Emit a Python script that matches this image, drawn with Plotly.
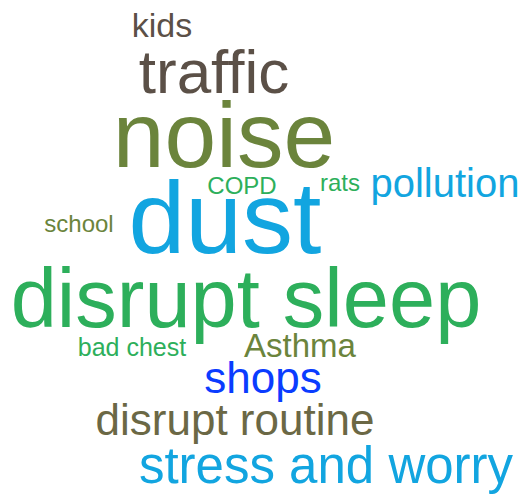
import plotly.graph_objects as go

# ---- data ----
words = ["kids", "traffic", "noise", "COPD", "rats", "pollution", "school",
         "dust", "disrupt sleep", "bad chest", "Asthma", "shops",
         "disrupt routine", "stress and worry"]
freq = [4, 7, 11, 3, 3, 5, 3, 12, 10, 3, 4, 5, 5, 6]

# ---- word-cloud layout (pixel positions, sizes, colours) ----
x_px = [162, 214, 224, 242, 340, 445, 79, 225, 246, 132, 300, 263, 235, 326]
baseline_px = [37, 93, 167, 194, 191, 197, 232, 253, 327, 356, 357, 393, 435, 483]
font_px = [34, 62, 93, 24, 24, 40, 24, 102, 83, 25, 33, 44, 44, 51]
colors = ["#5b5047", "#5b5047", "#6b843c", "#2daf5b", "#2daf5b", "#12a5e0",
          "#6b843c", "#12a5e0", "#2daf5b", "#2daf5b", "#6b843c", "#0a3cff",
          "#6b6845", "#12a5e0"]

W, H = 531, 495
PAD = 8  # default page body margin

fig = go.Figure()
for w, f, x, b, s, c in zip(words, freq, x_px, baseline_px, font_px, colors):
    # plotly 'middle center' puts the baseline 0.25*size below the point
    fig.add_trace(go.Scatter(
        x=[x], y=[b - 0.25 * s], mode="text", text=[w],
        textposition="middle center", cliponaxis=False,
        textfont=dict(family="Liberation Sans, Arial, sans-serif", size=s, color=c),
        hovertext=[f"{w}: {f}"], hoverinfo="text", showlegend=False))

fig.update_layout(
    width=W - PAD, height=H - PAD, margin=dict(l=0, r=0, t=0, b=0),
    paper_bgcolor="white", plot_bgcolor="white",
    xaxis=dict(range=[PAD, W], visible=False, fixedrange=True),
    yaxis=dict(range=[H, PAD], visible=False, fixedrange=True),
)
fig.write_html("out.html")
